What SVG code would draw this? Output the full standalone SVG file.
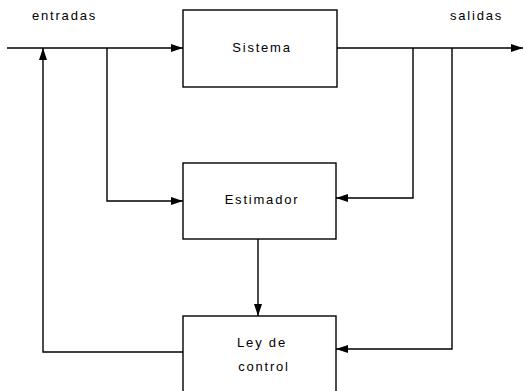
<svg xmlns="http://www.w3.org/2000/svg" width="525" height="391" viewBox="0 0 525 391">
<defs>
<marker id="ah" viewBox="0 0 12 8" refX="12" refY="4" markerWidth="12" markerHeight="8" markerUnits="userSpaceOnUse" orient="auto">
<path d="M0,0 L12,4 L0,8 Z" fill="#000"/>
</marker>
</defs>
<style>
.box{fill:#fff;stroke:#000;stroke-width:1.4}
.ln{fill:none;stroke:#000;stroke-width:1.4}
text{font-family:"Liberation Sans",Arial,sans-serif;font-size:13px;fill:#000;letter-spacing:1.8px}
</style>
<rect width="525" height="391" fill="#fff"/>
<g id="connectors">
<path class="ln" d="M7,48 H183" marker-end="url(#ah)"/>
<path class="ln" d="M337,48 H523" marker-end="url(#ah)"/>
<path class="ln" d="M183,352 H43 V48" marker-end="url(#ah)"/>
<path class="ln" d="M107,48 V201 H183" marker-end="url(#ah)"/>
<path class="ln" d="M413,48 V198 H336" marker-end="url(#ah)"/>
<path class="ln" d="M452,48 V349 H336" marker-end="url(#ah)"/>
<path class="ln" d="M258,239 V316" marker-end="url(#ah)"/>
</g>
<g id="sistema">
<rect class="box" x="183" y="10" width="154" height="77"/>
<text x="262" y="52" text-anchor="middle">Sistema</text>
</g>
<g id="estimador">
<rect class="box" x="183" y="163" width="153" height="76"/>
<text x="262" y="204" text-anchor="middle">Estimador</text>
</g>
<g id="ley">
<rect class="box" x="183" y="316" width="153" height="80"/>
<text x="262" y="347" text-anchor="middle">Ley de</text>
<text x="264" y="371" text-anchor="middle">control</text>
</g>
<g id="labels">
<text x="32" y="20">entradas</text>
<text x="450" y="20">salidas</text>
</g>
</svg>
